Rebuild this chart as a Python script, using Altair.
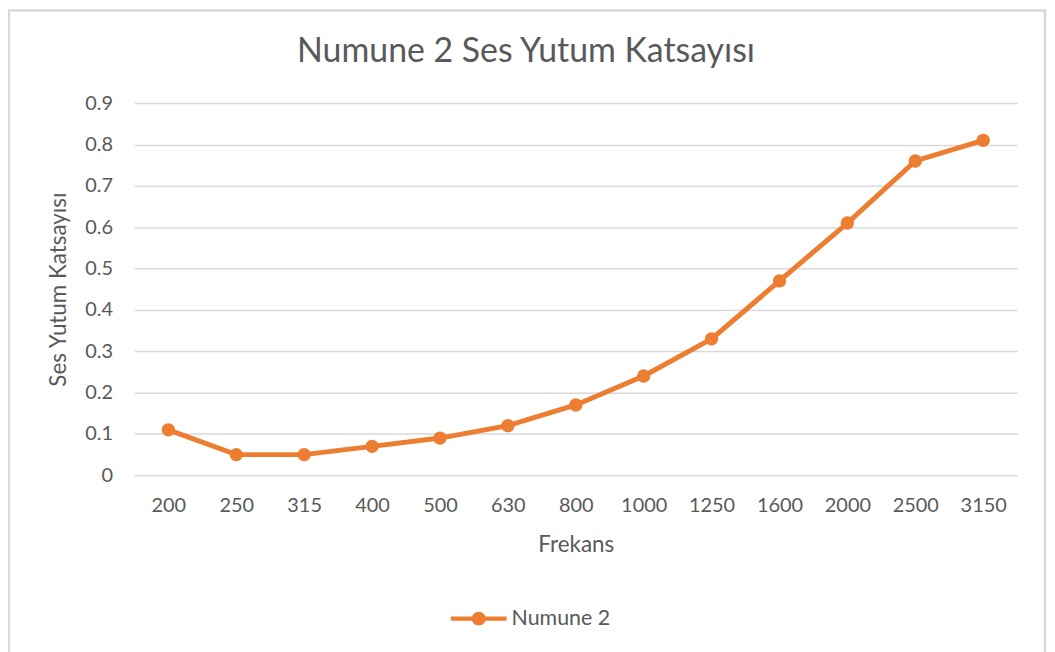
import altair as alt
import pandas as pd

frekans = ["200", "250", "315", "400", "500", "630", "800", "1000", "1250", "1600", "2000", "2500", "3150"]
katsayi = [0.11, 0.05, 0.05, 0.07, 0.09, 0.12, 0.17, 0.24, 0.33, 0.47, 0.61, 0.76, 0.81]
seri = "Numune 2"
y_ticks = [0, 0.1, 0.2, 0.3, 0.4, 0.5, 0.6, 0.7, 0.8, 0.9]

df = pd.DataFrame({"Frekans": frekans, "Katsayi": katsayi, "Seri": [seri] * len(frekans)})

ORANGE = "#ED7D31"
GRAY = "#595959"
GRID = "#D9D9D9"
FONT = "Lato"

x_enc = alt.X("Frekans:O", sort=frekans,
              axis=alt.Axis(title="Frekans", labelAngle=0, ticks=False, domain=False,
                            labelPadding=20, titlePadding=19))
y_enc = alt.Y("Katsayi:Q", scale=alt.Scale(domain=[0, 0.9], nice=False),
              axis=alt.Axis(title="Ses Yutum Katsayısı", values=y_ticks, format=".1~f",
                            ticks=False, domain=False, grid=True, labelPadding=22,
                            titlePadding=14))

legend_path = ("M-1,-0.08 L1,-0.08 L1,0.08 L-1,0.08 Z "
               "M-0.25,0 A0.25,0.25 0 1,1 0.25,0 A0.25,0.25 0 1,1 -0.25,0 Z")
legend = alt.Legend(title=None, orient="none", legendX=318, legendY=490,
                    symbolType=legend_path, symbolSize=3136,
                    symbolStrokeWidth=0, symbolOpacity=1, symbolFillColor=ORANGE,
                    labelFontSize=21.5, labelColor=GRAY, labelFont=FONT, labelOffset=5)
color_enc = alt.Color("Seri:N", scale=alt.Scale(domain=[seri], range=[ORANGE]), legend=legend)

base = alt.Chart(df)
line = base.mark_line(strokeWidth=5).encode(x=x_enc, y=y_enc, color=color_enc)
points = base.mark_point(filled=True, size=180, opacity=1).encode(x=x_enc, y=y_enc, color=color_enc)
frame = alt.Chart(pd.DataFrame({"a": [0]})).mark_rect(
    fill=None, stroke=GRID, strokeWidth=2.5
).encode(x=alt.value(-126), x2=alt.value(915), y=alt.value(-93), y2=alt.value(600))

chart = alt.layer(frame, line, points).properties(
    width=887, height=374,
    title=alt.TitleParams("Numune 2 Ses Yutum Katsayısı", fontSize=34, font=FONT,
                          fontWeight="normal", color=GRAY, anchor="middle", dx=-50, offset=-60),
    autosize=alt.AutoSizeParams(type="none"),
    padding={"left": 127, "top": 94, "right": 30, "bottom": 176},
).configure_view(stroke=None).configure_axis(
    labelFont=FONT, titleFont=FONT, labelFontSize=20, titleFontSize=22.5,
    labelColor=GRAY, titleColor=GRAY, titleFontWeight="normal",
    gridColor=GRID, gridWidth=1.5,
)

chart.save("out.html", embed_options={"renderer": "svg", "actions": False})
